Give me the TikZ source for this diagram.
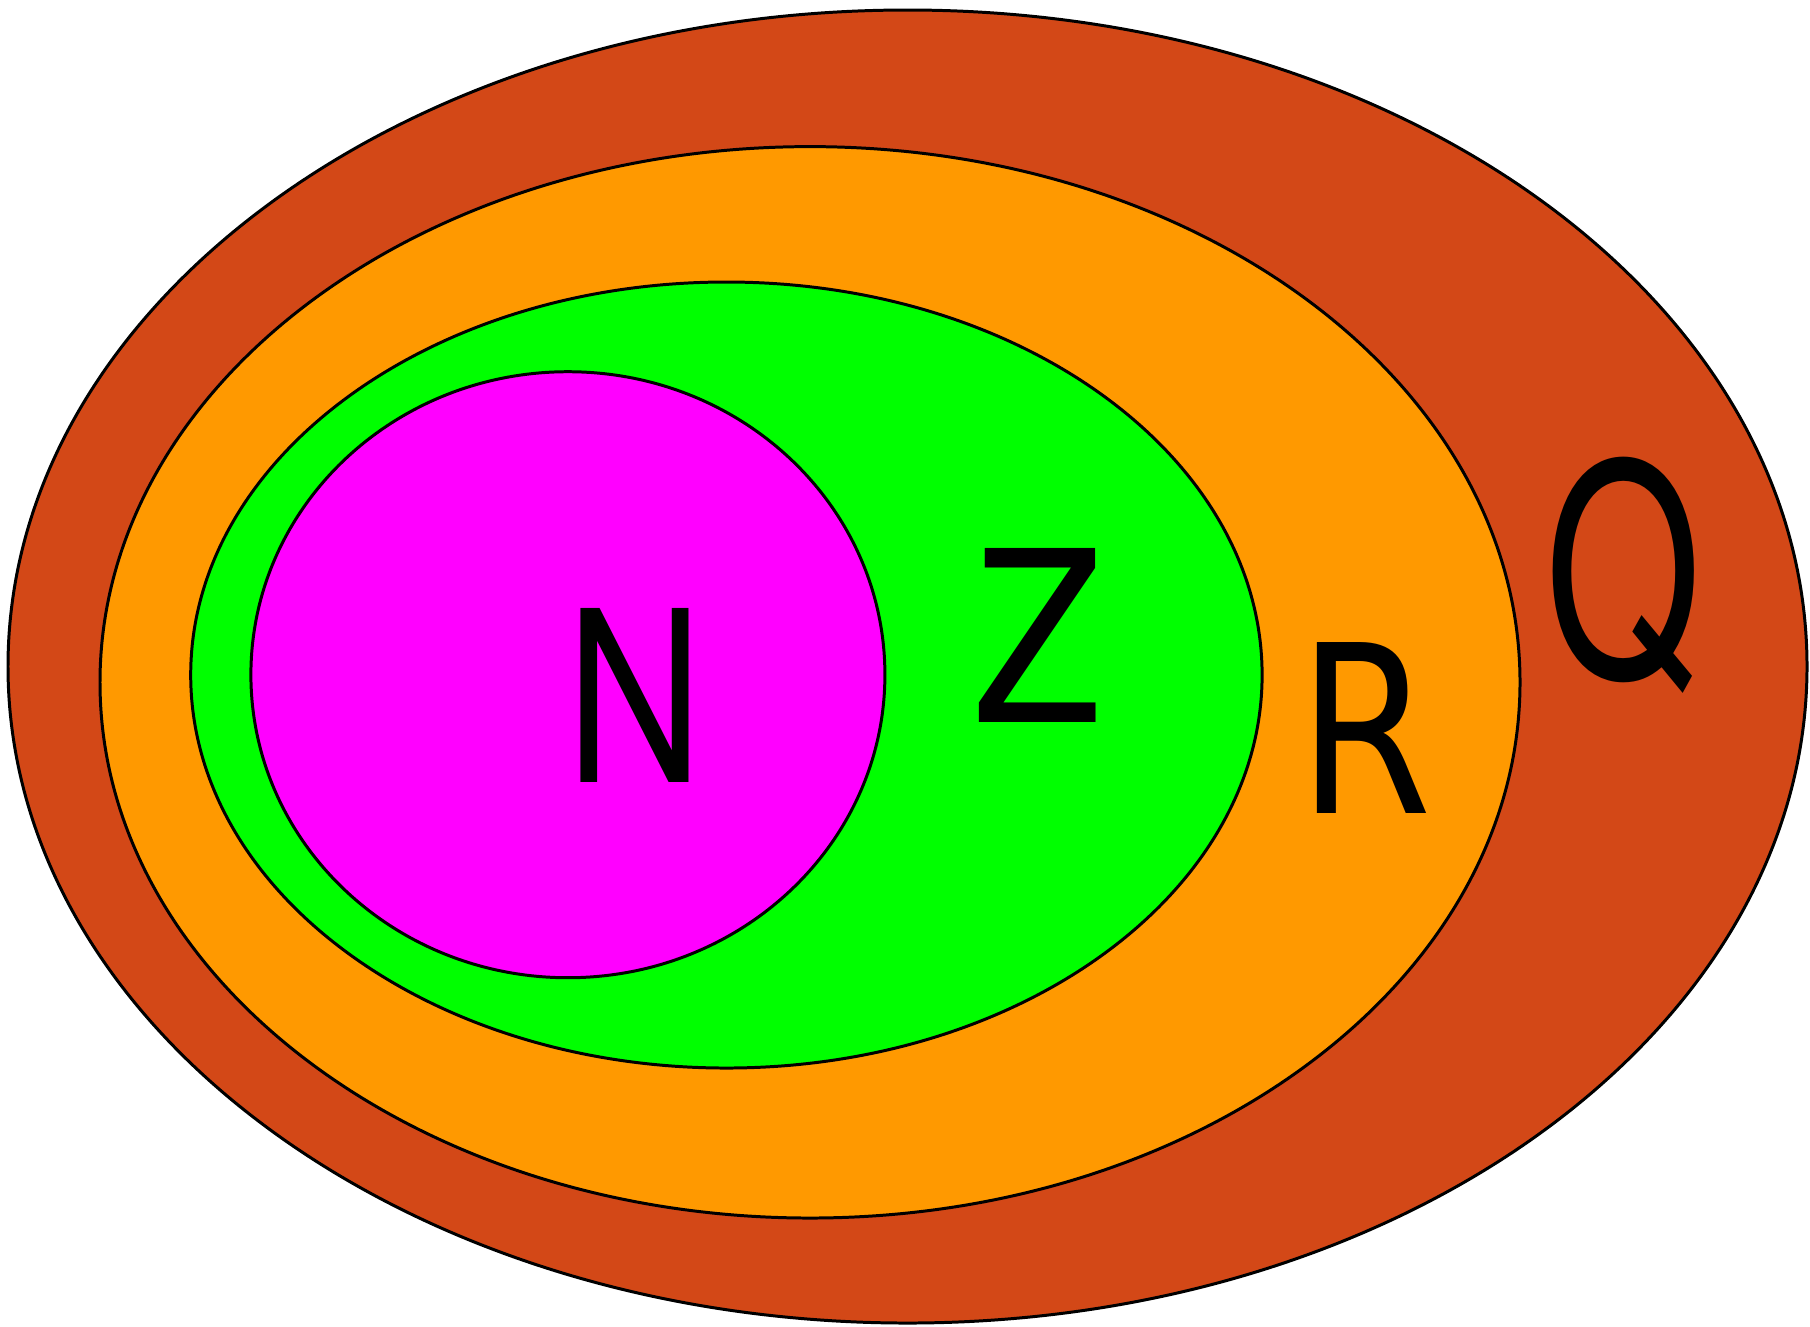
\documentclass[tikz,border=0pt]{standalone}
\usepackage{fontspec}
\newfontfamily\letterfont{TeX Gyre Heros}
\newfontfamily\rletterfont{DejaVu Sans}
\definecolor{qcol}{RGB}{211,72,23}
\definecolor{rcol}{RGB}{255,153,0}
\definecolor{zcol}{RGB}{0,255,0}
\definecolor{ncol}{RGB}{255,0,255}
\begin{document}
\begin{tikzpicture}[x=0.01cm,y=-0.01cm,
  setline/.style={draw=black,line width=0.85pt},
  letter/.style={inner sep=0pt,anchor=base,font=\letterfont\fontsize{67.9}{80}\selectfont}]
  \useasboundingbox (0,0) rectangle (1810,1326);
  \draw[setline,fill=qcol] (907.5,666.5) ellipse [x radius=899.5, y radius=656.5];
  \draw[setline,fill=rcol] (810,682.3) ellipse [x radius=710, y radius=535.7];
  \draw[setline,fill=zcol] (726.4,675) ellipse [x radius=535.7, y radius=393];
  \draw[setline,fill=ncol] (567.9,674.7) ellipse [x radius=317, y radius=303];
  \node[letter] (n) at (635,782) {\scalebox{0.794}[1]{N}};
  \node[letter] (z) at (1038,722) {\scalebox{0.88}[1]{Z}};
  \node[letter,font=\rletterfont\fontsize{66.7}{80}\selectfont] (r) at (1365,813) {\scalebox{0.82}[1]{R}};
  \node[letter,font=\letterfont\fontsize{83.9}{100}\selectfont] (q) at (1624,677) {\scalebox{0.68}[1]{Q}};
\end{tikzpicture}
\end{document}
